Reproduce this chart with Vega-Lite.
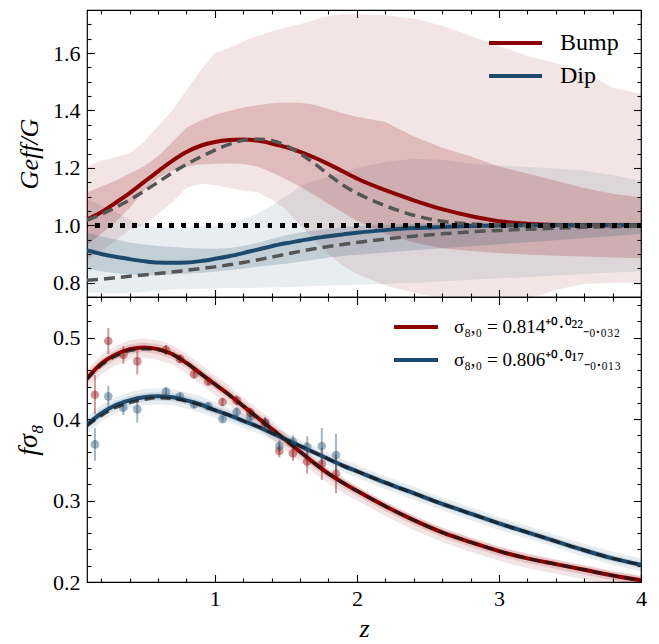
{
  "$schema": "https://vega.github.io/schema/vega-lite/v6.json",
  "background": "white",
  "padding": {"left": 13, "top": 8, "right": 18, "bottom": 0},
  "spacing": 0,
  "bounds": "flush",
  "resolve": {"scale": {"color": "independent", "fill": "independent", "stroke": "independent"}, "legend": {"color": "independent"}},
  "config": {
    "font": "Liberation Serif",
    "view": {"stroke": "black", "strokeWidth": 1.2},
    "axis": {"labelFont": "Liberation Serif", "labelFontSize": 22, "labelColor": "black", "titleFont": "Liberation Serif", "titleColor": "black", "titleFontWeight": "normal", "grid": false, "domain": false, "tickColor": "black", "tickWidth": 1.1, "labelOverlap": false, "labelFlush": false, "labelBound": false},
    "legend": {"labelFont": "Liberation Serif", "labelColor": "black", "padding": 0, "labelLimit": 400}
  },
  "datasets": {
    "geff": [
      {"z":0.1,"model":"Bump","mean":1.020,"fit":1.018,"lo1":0.93,"hi1":1.115,"lo2":0.88,"hi2":1.205},
      {"z":0.2,"model":"Bump","mean":1.045,"fit":1.038,"lo1":0.97,"hi1":1.135,"lo2":0.91,"hi2":1.225},
      {"z":0.3,"model":"Bump","mean":1.078,"fit":1.062,"lo1":1.01,"hi1":1.155,"lo2":0.945,"hi2":1.238},
      {"z":0.4,"model":"Bump","mean":1.112,"fit":1.088,"lo1":1.06,"hi1":1.18,"lo2":0.985,"hi2":1.25},
      {"z":0.5,"model":"Bump","mean":1.150,"fit":1.118,"lo1":1.12,"hi1":1.205,"lo2":1.0,"hi2":1.29},
      {"z":0.6,"model":"Bump","mean":1.188,"fit":1.150,"lo1":1.165,"hi1":1.24,"lo2":1.04,"hi2":1.345},
      {"z":0.7,"model":"Bump","mean":1.224,"fit":1.183,"lo1":1.19,"hi1":1.29,"lo2":1.08,"hi2":1.40},
      {"z":0.8,"model":"Bump","mean":1.255,"fit":1.212,"lo1":1.205,"hi1":1.34,"lo2":1.13,"hi2":1.47},
      {"z":0.9,"model":"Bump","mean":1.277,"fit":1.238,"lo1":1.212,"hi1":1.365,"lo2":1.145,"hi2":1.54},
      {"z":1.0,"model":"Bump","mean":1.290,"fit":1.262,"lo1":1.214,"hi1":1.385,"lo2":1.14,"hi2":1.60},
      {"z":1.1,"model":"Bump","mean":1.297,"fit":1.282,"lo1":1.215,"hi1":1.398,"lo2":1.13,"hi2":1.618},
      {"z":1.2,"model":"Bump","mean":1.299,"fit":1.296,"lo1":1.213,"hi1":1.41,"lo2":1.12,"hi2":1.64},
      {"z":1.3,"model":"Bump","mean":1.295,"fit":1.300,"lo1":1.205,"hi1":1.418,"lo2":1.115,"hi2":1.66},
      {"z":1.4,"model":"Bump","mean":1.285,"fit":1.295,"lo1":1.185,"hi1":1.425,"lo2":1.09,"hi2":1.675},
      {"z":1.5,"model":"Bump","mean":1.272,"fit":1.278,"lo1":1.16,"hi1":1.428,"lo2":1.055,"hi2":1.69},
      {"z":1.6,"model":"Bump","mean":1.256,"fit":1.250,"lo1":1.135,"hi1":1.427,"lo2":1.0,"hi2":1.70},
      {"z":1.7,"model":"Bump","mean":1.236,"fit":1.215,"lo1":1.105,"hi1":1.42,"lo2":0.95,"hi2":1.715},
      {"z":1.8,"model":"Bump","mean":1.213,"fit":1.177,"lo1":1.075,"hi1":1.405,"lo2":0.90,"hi2":1.73},
      {"z":1.9,"model":"Bump","mean":1.188,"fit":1.140,"lo1":1.045,"hi1":1.39,"lo2":0.86,"hi2":1.735},
      {"z":2.0,"model":"Bump","mean":1.163,"fit":1.112,"lo1":1.015,"hi1":1.378,"lo2":0.83,"hi2":1.735},
      {"z":2.2,"model":"Bump","mean":1.122,"fit":1.068,"lo1":0.97,"hi1":1.36,"lo2":0.79,"hi2":1.732},
      {"z":2.4,"model":"Bump","mean":1.087,"fit":1.035,"lo1":0.94,"hi1":1.31,"lo2":0.765,"hi2":1.72},
      {"z":2.6,"model":"Bump","mean":1.056,"fit":1.014,"lo1":0.92,"hi1":1.27,"lo2":0.745,"hi2":1.695},
      {"z":2.8,"model":"Bump","mean":1.032,"fit":1.005,"lo1":0.91,"hi1":1.24,"lo2":0.74,"hi2":1.66},
      {"z":3.0,"model":"Bump","mean":1.014,"fit":1.001,"lo1":0.903,"hi1":1.205,"lo2":0.74,"hi2":1.625},
      {"z":3.2,"model":"Bump","mean":1.005,"fit":1.0,"lo1":0.898,"hi1":1.18,"lo2":0.742,"hi2":1.59},
      {"z":3.4,"model":"Bump","mean":1.001,"fit":1.0,"lo1":0.894,"hi1":1.155,"lo2":0.775,"hi2":1.565},
      {"z":3.6,"model":"Bump","mean":1.0,"fit":1.0,"lo1":0.891,"hi1":1.13,"lo2":0.795,"hi2":1.535},
      {"z":3.8,"model":"Bump","mean":1.0,"fit":1.0,"lo1":0.888,"hi1":1.11,"lo2":0.80,"hi2":1.48},
      {"z":4.0,"model":"Bump","mean":1.0,"fit":1.0,"lo1":0.885,"hi1":1.097,"lo2":0.80,"hi2":1.457},
      {"z":0.1,"model":"Dip","mean":0.912,"fit":0.808,"lo1":0.848,"hi1":0.975,"lo2":0.765,"hi2":1.09},
      {"z":0.2,"model":"Dip","mean":0.900,"fit":0.812,"lo1":0.840,"hi1":0.962,"lo2":0.763,"hi2":1.07},
      {"z":0.3,"model":"Dip","mean":0.890,"fit":0.817,"lo1":0.833,"hi1":0.95,"lo2":0.762,"hi2":1.045},
      {"z":0.4,"model":"Dip","mean":0.882,"fit":0.822,"lo1":0.828,"hi1":0.94,"lo2":0.763,"hi2":1.02},
      {"z":0.5,"model":"Dip","mean":0.875,"fit":0.827,"lo1":0.826,"hi1":0.933,"lo2":0.767,"hi2":1.0},
      {"z":0.6,"model":"Dip","mean":0.870,"fit":0.832,"lo1":0.826,"hi1":0.928,"lo2":0.772,"hi2":0.993},
      {"z":0.7,"model":"Dip","mean":0.869,"fit":0.837,"lo1":0.828,"hi1":0.924,"lo2":0.776,"hi2":0.99},
      {"z":0.8,"model":"Dip","mean":0.870,"fit":0.843,"lo1":0.831,"hi1":0.921,"lo2":0.778,"hi2":0.993},
      {"z":0.9,"model":"Dip","mean":0.875,"fit":0.849,"lo1":0.834,"hi1":0.919,"lo2":0.779,"hi2":0.997},
      {"z":1.0,"model":"Dip","mean":0.883,"fit":0.855,"lo1":0.838,"hi1":0.918,"lo2":0.78,"hi2":1.0},
      {"z":1.1,"model":"Dip","mean":0.892,"fit":0.862,"lo1":0.843,"hi1":0.921,"lo2":0.781,"hi2":1.008},
      {"z":1.2,"model":"Dip","mean":0.903,"fit":0.870,"lo1":0.848,"hi1":0.928,"lo2":0.781,"hi2":1.02},
      {"z":1.3,"model":"Dip","mean":0.915,"fit":0.879,"lo1":0.855,"hi1":0.938,"lo2":0.782,"hi2":1.04},
      {"z":1.4,"model":"Dip","mean":0.927,"fit":0.889,"lo1":0.861,"hi1":0.952,"lo2":0.783,"hi2":1.07},
      {"z":1.5,"model":"Dip","mean":0.937,"fit":0.899,"lo1":0.866,"hi1":0.965,"lo2":0.784,"hi2":1.10},
      {"z":1.6,"model":"Dip","mean":0.946,"fit":0.909,"lo1":0.873,"hi1":0.975,"lo2":0.786,"hi2":1.135},
      {"z":1.7,"model":"Dip","mean":0.955,"fit":0.918,"lo1":0.88,"hi1":0.982,"lo2":0.788,"hi2":1.155},
      {"z":1.8,"model":"Dip","mean":0.962,"fit":0.926,"lo1":0.888,"hi1":0.988,"lo2":0.79,"hi2":1.168},
      {"z":1.9,"model":"Dip","mean":0.968,"fit":0.933,"lo1":0.893,"hi1":0.993,"lo2":0.791,"hi2":1.185},
      {"z":2.0,"model":"Dip","mean":0.974,"fit":0.940,"lo1":0.897,"hi1":0.997,"lo2":0.792,"hi2":1.20},
      {"z":2.2,"model":"Dip","mean":0.983,"fit":0.952,"lo1":0.905,"hi1":1.002,"lo2":0.795,"hi2":1.22},
      {"z":2.4,"model":"Dip","mean":0.990,"fit":0.962,"lo1":0.913,"hi1":1.005,"lo2":0.80,"hi2":1.232},
      {"z":2.6,"model":"Dip","mean":0.994,"fit":0.970,"lo1":0.92,"hi1":1.007,"lo2":0.805,"hi2":1.228},
      {"z":2.8,"model":"Dip","mean":0.997,"fit":0.977,"lo1":0.927,"hi1":1.008,"lo2":0.81,"hi2":1.215},
      {"z":3.0,"model":"Dip","mean":0.999,"fit":0.982,"lo1":0.934,"hi1":1.009,"lo2":0.815,"hi2":1.208},
      {"z":3.2,"model":"Dip","mean":1.0,"fit":0.986,"lo1":0.941,"hi1":1.01,"lo2":0.82,"hi2":1.203},
      {"z":3.4,"model":"Dip","mean":1.0,"fit":0.99,"lo1":0.948,"hi1":1.01,"lo2":0.825,"hi2":1.198},
      {"z":3.6,"model":"Dip","mean":1.0,"fit":0.993,"lo1":0.955,"hi1":1.01,"lo2":0.83,"hi2":1.19},
      {"z":3.8,"model":"Dip","mean":1.0,"fit":0.995,"lo1":0.962,"hi1":1.01,"lo2":0.835,"hi2":1.175},
      {"z":4.0,"model":"Dip","mean":1.0,"fit":0.997,"lo1":0.97,"hi1":1.01,"lo2":0.84,"hi2":1.155}
    ],
    "fs8": [
      {"z":0.1,"model":"Bump","mean":0.450,"fit":0.449,"lo2":0.437,"hi2":0.461,"lo1":0.444,"hi1":0.456},
      {"z":0.2,"model":"Bump","mean":0.468,"fit":0.466,"lo2":0.455,"hi2":0.479,"lo1":0.462,"hi1":0.474},
      {"z":0.3,"model":"Bump","mean":0.479,"fit":0.477,"lo2":0.466,"hi2":0.490,"lo1":0.473,"hi1":0.485},
      {"z":0.4,"model":"Bump","mean":0.486,"fit":0.484,"lo2":0.473,"hi2":0.497,"lo1":0.480,"hi1":0.492},
      {"z":0.5,"model":"Bump","mean":0.488,"fit":0.486,"lo2":0.475,"hi2":0.499,"lo1":0.482,"hi1":0.494},
      {"z":0.6,"model":"Bump","mean":0.486,"fit":0.485,"lo2":0.473,"hi2":0.497,"lo1":0.480,"hi1":0.492},
      {"z":0.7,"model":"Bump","mean":0.480,"fit":0.479,"lo2":0.467,"hi2":0.491,"lo1":0.474,"hi1":0.486},
      {"z":0.8,"model":"Bump","mean":0.469,"fit":0.469,"lo2":0.456,"hi2":0.480,"lo1":0.463,"hi1":0.475},
      {"z":0.9,"model":"Bump","mean":0.456,"fit":0.456,"lo2":0.443,"hi2":0.467,"lo1":0.450,"hi1":0.462},
      {"z":1.0,"model":"Bump","mean":0.443,"fit":0.443,"lo2":0.430,"hi2":0.454,"lo1":0.437,"hi1":0.449},
      {"z":1.1,"model":"Bump","mean":0.430,"fit":0.430,"lo2":0.417,"hi2":0.441,"lo1":0.424,"hi1":0.436},
      {"z":1.2,"model":"Bump","mean":0.416,"fit":0.416,"lo2":0.403,"hi2":0.427,"lo1":0.410,"hi1":0.422},
      {"z":1.3,"model":"Bump","mean":0.402,"fit":0.402,"lo2":0.389,"hi2":0.413,"lo1":0.396,"hi1":0.408},
      {"z":1.4,"model":"Bump","mean":0.388,"fit":0.388,"lo2":0.375,"hi2":0.399,"lo1":0.382,"hi1":0.394},
      {"z":1.5,"model":"Bump","mean":0.374,"fit":0.374,"lo2":0.361,"hi2":0.383,"lo1":0.368,"hi1":0.380},
      {"z":1.6,"model":"Bump","mean":0.360,"fit":0.360,"lo2":0.348,"hi2":0.368,"lo1":0.354,"hi1":0.365},
      {"z":1.7,"model":"Bump","mean":0.346,"fit":0.346,"lo2":0.334,"hi2":0.353,"lo1":0.340,"hi1":0.351},
      {"z":1.8,"model":"Bump","mean":0.333,"fit":0.333,"lo2":0.321,"hi2":0.340,"lo1":0.327,"hi1":0.338},
      {"z":1.9,"model":"Bump","mean":0.322,"fit":0.322,"lo2":0.310,"hi2":0.329,"lo1":0.316,"hi1":0.327},
      {"z":2.0,"model":"Bump","mean":0.312,"fit":0.312,"lo2":0.300,"hi2":0.318,"lo1":0.306,"hi1":0.317},
      {"z":2.2,"model":"Bump","mean":0.293,"fit":0.293,"lo2":0.281,"hi2":0.299,"lo1":0.287,"hi1":0.298},
      {"z":2.4,"model":"Bump","mean":0.276,"fit":0.276,"lo2":0.264,"hi2":0.282,"lo1":0.270,"hi1":0.281},
      {"z":2.6,"model":"Bump","mean":0.261,"fit":0.261,"lo2":0.249,"hi2":0.267,"lo1":0.255,"hi1":0.266},
      {"z":2.8,"model":"Bump","mean":0.249,"fit":0.249,"lo2":0.237,"hi2":0.255,"lo1":0.243,"hi1":0.254},
      {"z":3.0,"model":"Bump","mean":0.238,"fit":0.238,"lo2":0.226,"hi2":0.244,"lo1":0.232,"hi1":0.243},
      {"z":3.2,"model":"Bump","mean":0.229,"fit":0.229,"lo2":0.217,"hi2":0.235,"lo1":0.223,"hi1":0.234},
      {"z":3.4,"model":"Bump","mean":0.222,"fit":0.222,"lo2":0.210,"hi2":0.228,"lo1":0.216,"hi1":0.227},
      {"z":3.6,"model":"Bump","mean":0.215,"fit":0.215,"lo2":0.203,"hi2":0.221,"lo1":0.209,"hi1":0.220},
      {"z":3.8,"model":"Bump","mean":0.208,"fit":0.208,"lo2":0.196,"hi2":0.214,"lo1":0.202,"hi1":0.213},
      {"z":4.0,"model":"Bump","mean":0.202,"fit":0.202,"lo2":0.190,"hi2":0.208,"lo1":0.196,"hi1":0.207},
      {"z":0.1,"model":"Dip","mean":0.393,"fit":0.392,"lo2":0.383,"hi2":0.403,"lo1":0.388,"hi1":0.398},
      {"z":0.2,"model":"Dip","mean":0.407,"fit":0.404,"lo2":0.397,"hi2":0.417,"lo1":0.402,"hi1":0.412},
      {"z":0.3,"model":"Dip","mean":0.417,"fit":0.414,"lo2":0.407,"hi2":0.427,"lo1":0.412,"hi1":0.422},
      {"z":0.4,"model":"Dip","mean":0.423,"fit":0.420,"lo2":0.413,"hi2":0.433,"lo1":0.418,"hi1":0.428},
      {"z":0.5,"model":"Dip","mean":0.427,"fit":0.424,"lo2":0.417,"hi2":0.437,"lo1":0.422,"hi1":0.432},
      {"z":0.6,"model":"Dip","mean":0.428,"fit":0.426,"lo2":0.418,"hi2":0.438,"lo1":0.423,"hi1":0.433},
      {"z":0.7,"model":"Dip","mean":0.427,"fit":0.425,"lo2":0.417,"hi2":0.437,"lo1":0.422,"hi1":0.432},
      {"z":0.8,"model":"Dip","mean":0.423,"fit":0.422,"lo2":0.413,"hi2":0.433,"lo1":0.418,"hi1":0.428},
      {"z":0.9,"model":"Dip","mean":0.418,"fit":0.417,"lo2":0.408,"hi2":0.428,"lo1":0.413,"hi1":0.423},
      {"z":1.0,"model":"Dip","mean":0.411,"fit":0.411,"lo2":0.401,"hi2":0.421,"lo1":0.406,"hi1":0.416},
      {"z":1.1,"model":"Dip","mean":0.405,"fit":0.405,"lo2":0.396,"hi2":0.414,"lo1":0.400,"hi1":0.410},
      {"z":1.2,"model":"Dip","mean":0.398,"fit":0.398,"lo2":0.389,"hi2":0.407,"lo1":0.393,"hi1":0.403},
      {"z":1.3,"model":"Dip","mean":0.391,"fit":0.391,"lo2":0.383,"hi2":0.399,"lo1":0.387,"hi1":0.395},
      {"z":1.4,"model":"Dip","mean":0.383,"fit":0.383,"lo2":0.375,"hi2":0.391,"lo1":0.379,"hi1":0.387},
      {"z":1.5,"model":"Dip","mean":0.375,"fit":0.375,"lo2":0.367,"hi2":0.383,"lo1":0.371,"hi1":0.379},
      {"z":1.6,"model":"Dip","mean":0.367,"fit":0.367,"lo2":0.359,"hi2":0.375,"lo1":0.363,"hi1":0.371},
      {"z":1.7,"model":"Dip","mean":0.359,"fit":0.359,"lo2":0.351,"hi2":0.367,"lo1":0.355,"hi1":0.363},
      {"z":1.8,"model":"Dip","mean":0.351,"fit":0.351,"lo2":0.343,"hi2":0.359,"lo1":0.347,"hi1":0.355},
      {"z":1.9,"model":"Dip","mean":0.343,"fit":0.343,"lo2":0.335,"hi2":0.351,"lo1":0.339,"hi1":0.347},
      {"z":2.0,"model":"Dip","mean":0.336,"fit":0.336,"lo2":0.328,"hi2":0.344,"lo1":0.332,"hi1":0.340},
      {"z":2.2,"model":"Dip","mean":0.322,"fit":0.322,"lo2":0.314,"hi2":0.330,"lo1":0.318,"hi1":0.326},
      {"z":2.4,"model":"Dip","mean":0.309,"fit":0.309,"lo2":0.301,"hi2":0.317,"lo1":0.305,"hi1":0.313},
      {"z":2.6,"model":"Dip","mean":0.296,"fit":0.296,"lo2":0.288,"hi2":0.304,"lo1":0.292,"hi1":0.300},
      {"z":2.8,"model":"Dip","mean":0.284,"fit":0.284,"lo2":0.276,"hi2":0.292,"lo1":0.280,"hi1":0.288},
      {"z":3.0,"model":"Dip","mean":0.272,"fit":0.272,"lo2":0.264,"hi2":0.280,"lo1":0.268,"hi1":0.276},
      {"z":3.2,"model":"Dip","mean":0.261,"fit":0.261,"lo2":0.253,"hi2":0.269,"lo1":0.257,"hi1":0.265},
      {"z":3.4,"model":"Dip","mean":0.250,"fit":0.250,"lo2":0.242,"hi2":0.258,"lo1":0.246,"hi1":0.254},
      {"z":3.6,"model":"Dip","mean":0.239,"fit":0.239,"lo2":0.231,"hi2":0.247,"lo1":0.235,"hi1":0.243},
      {"z":3.8,"model":"Dip","mean":0.229,"fit":0.229,"lo2":0.221,"hi2":0.237,"lo1":0.225,"hi1":0.233},
      {"z":4.0,"model":"Dip","mean":0.221,"fit":0.221,"lo2":0.213,"hi2":0.229,"lo1":0.217,"hi1":0.225}
    ],
    "pts": [
      {"z":0.156,"model":"Bump","f":0.430,"lo":0.406,"hi":0.454},
      {"z":0.25,"model":"Bump","f":0.496,"lo":0.480,"hi":0.512},
      {"z":0.356,"model":"Bump","f":0.479,"lo":0.468,"hi":0.490},
      {"z":0.454,"model":"Bump","f":0.471,"lo":0.455,"hi":0.487},
      {"z":0.656,"model":"Bump","f":0.485,"lo":0.479,"hi":0.491},
      {"z":0.755,"model":"Bump","f":0.474,"lo":0.469,"hi":0.479},
      {"z":0.854,"model":"Bump","f":0.455,"lo":0.451,"hi":0.459},
      {"z":0.954,"model":"Bump","f":0.446,"lo":0.442,"hi":0.450},
      {"z":1.054,"model":"Bump","f":0.421,"lo":0.416,"hi":0.426},
      {"z":1.154,"model":"Bump","f":0.423,"lo":0.417,"hi":0.429},
      {"z":1.25,"model":"Bump","f":0.408,"lo":0.402,"hi":0.414},
      {"z":1.354,"model":"Bump","f":0.396,"lo":0.389,"hi":0.403},
      {"z":1.454,"model":"Bump","f":0.361,"lo":0.353,"hi":0.369},
      {"z":1.55,"model":"Bump","f":0.358,"lo":0.349,"hi":0.367},
      {"z":1.65,"model":"Bump","f":0.348,"lo":0.333,"hi":0.363},
      {"z":1.753,"model":"Bump","f":0.345,"lo":0.325,"hi":0.365},
      {"z":1.853,"model":"Bump","f":0.333,"lo":0.309,"hi":0.357},
      {"z":0.156,"model":"Dip","f":0.369,"lo":0.349,"hi":0.389},
      {"z":0.25,"model":"Dip","f":0.428,"lo":0.415,"hi":0.441},
      {"z":0.356,"model":"Dip","f":0.414,"lo":0.405,"hi":0.423},
      {"z":0.454,"model":"Dip","f":0.412,"lo":0.396,"hi":0.428},
      {"z":0.656,"model":"Dip","f":0.434,"lo":0.429,"hi":0.439},
      {"z":0.755,"model":"Dip","f":0.428,"lo":0.424,"hi":0.432},
      {"z":0.854,"model":"Dip","f":0.418,"lo":0.414,"hi":0.422},
      {"z":0.954,"model":"Dip","f":0.416,"lo":0.412,"hi":0.420},
      {"z":1.054,"model":"Dip","f":0.400,"lo":0.396,"hi":0.404},
      {"z":1.154,"model":"Dip","f":0.409,"lo":0.404,"hi":0.414},
      {"z":1.25,"model":"Dip","f":0.403,"lo":0.398,"hi":0.408},
      {"z":1.354,"model":"Dip","f":0.395,"lo":0.389,"hi":0.401},
      {"z":1.454,"model":"Dip","f":0.367,"lo":0.360,"hi":0.374},
      {"z":1.55,"model":"Dip","f":0.372,"lo":0.364,"hi":0.380},
      {"z":1.65,"model":"Dip","f":0.366,"lo":0.353,"hi":0.379},
      {"z":1.753,"model":"Dip","f":0.367,"lo":0.345,"hi":0.389},
      {"z":1.853,"model":"Dip","f":0.356,"lo":0.330,"hi":0.382}
    ]
  },
  "vconcat": [
    {
      "width": 554,
      "height": 287,
      "data": {"name": "geff"},
      "resolve": {"axis": {"x": "independent", "y": "independent"}},
      "layer": [
        {
          "mark": {"type": "area", "clip": true, "opacity": 0.1},
          "encoding": {
            "x": {"field": "z", "type": "quantitative", "scale": {"domain": [0.1, 4], "nice": false, "zero": false},
              "axis": {"orient": "bottom", "values": [0.2,0.4,0.6,0.8,1,1.2,1.4,1.6,1.8,2,2.2,2.4,2.6,2.8,3,3.2,3.4,3.6,3.8,4], "labels": false, "title": null,
                "tickSize": {"condition": {"test": "abs(datum.value-round(datum.value))<0.001", "value": -7.5}, "value": -4}}},
            "y": {"field": "lo2", "type": "quantitative", "scale": {"domain": [0.75, 1.75], "nice": false, "zero": false},
              "axis": {"orient": "left", "values": [0.8,0.85,0.9,0.95,1,1.05,1.1,1.15,1.2,1.25,1.3,1.35,1.4,1.45,1.5,1.55,1.6,1.65,1.7],
                "labelExpr": "abs(datum.value*5-round(datum.value*5))<0.001 ? format(datum.value,'.1f') : ''",
                "labelPadding": 14.5, "title": "Geff/G", "titleFontStyle": "italic", "titleFontSize": 26, "titlePadding": 10,
                "tickSize": {"condition": {"test": "abs(datum.value*5-round(datum.value*5))<0.001", "value": -7.5}, "value": -4}}},
            "y2": {"field": "hi2"},
            "fill": {"field": "model", "type": "nominal", "scale": {"domain": ["Dip", "Bump"], "range": ["#1d4a6c", "#8b0000"]}, "legend": null}
          }
        },
        {
          "mark": {"type": "area", "clip": true, "opacity": 0.18},
          "encoding": {
            "x": {"field": "z", "type": "quantitative", "axis": null},
            "y": {"field": "lo1", "type": "quantitative", "axis": null},
            "y2": {"field": "hi1"},
            "fill": {"field": "model", "type": "nominal", "scale": {"domain": ["Dip", "Bump"], "range": ["#1d4a6c", "#8b0000"]}, "legend": null}
          }
        },
        {
          "mark": {"type": "line", "clip": true, "strokeWidth": 4, "interpolate": "monotone"},
          "encoding": {
            "x": {"field": "z", "type": "quantitative", "axis": null},
            "y": {"field": "mean", "type": "quantitative", "axis": null},
            "color": {"field": "model", "type": "nominal", "scale": {"domain": ["Bump", "Dip"], "range": ["#8b0000", "#1d4a6c"]},
              "legend": {"title": null, "orient": "top-right", "offset": 22, "symbolType": "stroke", "symbolStrokeWidth": 4, "symbolSize": 2809, "labelFontSize": 24, "labelOffset": 16, "clipHeight": 22, "rowPadding": 9}}
          }
        },
        {
          "mark": {"type": "line", "clip": true, "strokeWidth": 3.5, "color": "#555555", "strokeDash": [11, 6], "interpolate": "monotone"},
          "encoding": {
            "x": {"field": "z", "type": "quantitative",
              "axis": {"orient": "top", "values": [0.2,0.4,0.6,0.8,1,1.2,1.4,1.6,1.8,2,2.2,2.4,2.6,2.8,3,3.2,3.4,3.6,3.8,4], "labels": false, "title": null,
                "tickSize": {"condition": {"test": "abs(datum.value-round(datum.value))<0.001", "value": -7.5}, "value": -4}}},
            "y": {"field": "fit", "type": "quantitative",
              "axis": {"orient": "right", "values": [0.8,0.85,0.9,0.95,1,1.05,1.1,1.15,1.2,1.25,1.3,1.35,1.4,1.45,1.5,1.55,1.6,1.65,1.7], "labels": false, "title": null,
                "tickSize": {"condition": {"test": "abs(datum.value*5-round(datum.value*5))<0.001", "value": -7.5}, "value": -4}}},
            "detail": {"field": "model"}
          }
        },
        {
          "mark": {"type": "rule", "color": "black", "strokeWidth": 4, "strokeDash": [4, 8.3]},
          "encoding": {"y": {"datum": 1, "type": "quantitative", "axis": null}}
        }
      ]
    },
    {
      "width": 554,
      "height": 285,
      "resolve": {"axis": {"x": "independent", "y": "independent"}},
      "layer": [
        {
          "data": {"name": "fs8"},
          "mark": {"type": "area", "clip": true, "opacity": 0.1},
          "encoding": {
            "x": {"field": "z", "type": "quantitative", "scale": {"domain": [0.1, 4], "nice": false, "zero": false},
              "axis": {"orient": "bottom", "values": [0.2,0.4,0.6,0.8,1,1.2,1.4,1.6,1.8,2,2.2,2.4,2.6,2.8,3,3.2,3.4,3.6,3.8,4],
                "labelExpr": "abs(datum.value-round(datum.value))<0.001 ? format(datum.value,'d') : ''",
                "labelPadding": 14, "title": "z", "titleFontStyle": "italic", "titleFontSize": 26, "titlePadding": 2,
                "tickSize": {"condition": {"test": "abs(datum.value-round(datum.value))<0.001", "value": -7.5}, "value": -4}}},
            "y": {"field": "lo2", "type": "quantitative", "scale": {"domain": [0.2, 0.55], "nice": false, "zero": false},
              "axis": {"orient": "left", "values": [0.2,0.22,0.24,0.26,0.28,0.3,0.32,0.34,0.36,0.38,0.4,0.42,0.44,0.46,0.48,0.5,0.52,0.54],
                "labelExpr": "abs(datum.value*10-round(datum.value*10))<0.001 ? format(datum.value,'.1f') : ''",
                "labelPadding": 14.5, "title": "fσ₈", "titleFontStyle": "italic", "titleFontSize": 28, "titlePadding": 10,
                "tickSize": {"condition": {"test": "abs(datum.value*10-round(datum.value*10))<0.001", "value": -7.5}, "value": -4}}},
            "y2": {"field": "hi2"},
            "fill": {"field": "model", "type": "nominal", "scale": {"domain": ["Dip", "Bump"], "range": ["#1d4a6c", "#8b0000"]}, "legend": null}
          }
        },
        {
          "data": {"name": "fs8"},
          "mark": {"type": "area", "clip": true, "opacity": 0.14},
          "encoding": {
            "x": {"field": "z", "type": "quantitative", "axis": null},
            "y": {"field": "lo1", "type": "quantitative", "axis": null},
            "y2": {"field": "hi1"},
            "fill": {"field": "model", "type": "nominal", "scale": {"domain": ["Dip", "Bump"], "range": ["#1d4a6c", "#8b0000"]}, "legend": null}
          }
        },
        {
          "data": {"name": "pts"},
          "mark": {"type": "rule", "strokeWidth": 2, "opacity": 0.4},
          "encoding": {
            "x": {"field": "z", "type": "quantitative", "axis": null},
            "y": {"field": "lo", "type": "quantitative", "axis": null},
            "y2": {"field": "hi"},
            "stroke": {"field": "model", "type": "nominal", "scale": {"domain": ["Dip", "Bump"], "range": ["#1d4a6c", "#8b0000"]}, "legend": null}
          }
        },
        {
          "data": {"name": "pts"},
          "mark": {"type": "circle", "size": 75, "opacity": 0.42},
          "encoding": {
            "x": {"field": "z", "type": "quantitative", "axis": null},
            "y": {"field": "f", "type": "quantitative", "axis": null},
            "fill": {"field": "model", "type": "nominal", "scale": {"domain": ["Dip", "Bump"], "range": ["#1d4a6c", "#8b0000"]}, "legend": null}
          }
        },
        {
          "data": {"name": "fs8"},
          "mark": {"type": "line", "clip": true, "strokeWidth": 4, "interpolate": "monotone"},
          "encoding": {
            "x": {"field": "z", "type": "quantitative", "axis": null},
            "y": {"field": "mean", "type": "quantitative", "axis": null},
            "color": {"field": "model", "type": "nominal", "scale": {"domain": ["Bump", "Dip"], "range": ["#8b0000", "#1d4a6c"]},
              "legend": {"title": null, "orient": "top-right", "offset": 19, "symbolType": "stroke", "symbolStrokeWidth": 4, "symbolSize": 1936, "labelFontSize": 19, "labelOffset": 14, "labelLimit": 400, "clipHeight": 22, "rowPadding": 11,
                "labelExpr": "datum.label == 'Bump' ? 'σ₈,₀ = 0.814⁺⁰·⁰²²₋₀.₀₃₂' : 'σ₈,₀ = 0.806⁺⁰·⁰¹⁷₋₀.₀₁₃'"}}
          }
        },
        {
          "data": {"name": "fs8"},
          "mark": {"type": "line", "clip": true, "strokeWidth": 3, "color": "#1a1a1a", "opacity": 0.75, "strokeDash": [10, 6], "interpolate": "monotone"},
          "encoding": {
            "x": {"field": "z", "type": "quantitative",
              "axis": {"orient": "top", "values": [0.2,0.4,0.6,0.8,1,1.2,1.4,1.6,1.8,2,2.2,2.4,2.6,2.8,3,3.2,3.4,3.6,3.8,4], "labels": false, "title": null,
                "tickSize": {"condition": {"test": "abs(datum.value-round(datum.value))<0.001", "value": -7.5}, "value": -4}}},
            "y": {"field": "fit", "type": "quantitative",
              "axis": {"orient": "right", "values": [0.2,0.22,0.24,0.26,0.28,0.3,0.32,0.34,0.36,0.38,0.4,0.42,0.44,0.46,0.48,0.5,0.52,0.54], "labels": false, "title": null,
                "tickSize": {"condition": {"test": "abs(datum.value*10-round(datum.value*10))<0.001", "value": -7.5}, "value": -4}}},
            "detail": {"field": "model"}
          }
        }
      ]
    }
  ]
}
